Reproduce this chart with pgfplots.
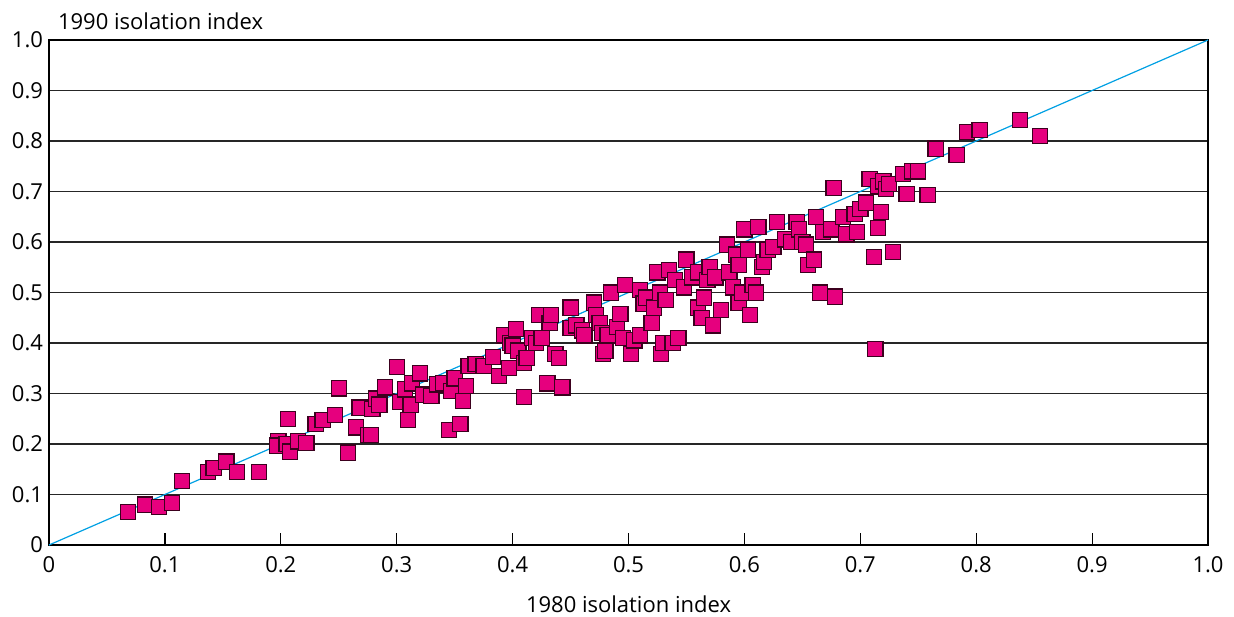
\documentclass[border=0pt]{standalone}
\usepackage{fontspec}
\setmainfont{Open Sans}
\usepackage{pgfplots}
\pgfplotsset{compat=1.18}
\definecolor{pinkfill}{RGB}{230,0,126}
\definecolor{pinkedge}{RGB}{60,0,30}
\definecolor{diag}{RGB}{0,160,227}
\begin{document}
\begin{tikzpicture}
\path[use as bounding box] (-24.5pt,-35.5pt) rectangle (592.5pt,272.5pt);
\begin{axis}[
  at={(0,0)}, anchor=south west,
  scale only axis, width=579.5pt, height=252.5pt,
  xmin=0, xmax=1, ymin=0, ymax=1,
  xtick={0,0.1,0.2,0.3,0.4,0.5,0.6,0.7,0.8,0.9,1.0},
  xticklabels={0,0.1,0.2,0.3,0.4,0.5,0.6,0.7,0.8,0.9,1.0},
  ytick={0,0.1,0.2,0.3,0.4,0.5,0.6,0.7,0.8,0.9,1.0},
  yticklabels={0,0.1,0.2,0.3,0.4,0.5,0.6,0.7,0.8,0.9,1.0},
  xtick pos=lower, ytick pos=left,
  tick align=inside,
  xtick style={black, line width=0.6pt},
  ytick style={draw=none},
  major tick length=6pt,
  ymajorgrids, grid style={black!85, line width=0.65pt},
  axis line style={black, line width=0.7pt},
  ticklabel style={font=\fontsize{11}{13}\selectfont},
  /pgf/number format/assume math mode=true,
  yticklabel style={xshift=0.5pt},
  xticklabel style={anchor=base, yshift=-13.5pt},
  title={1990 isolation index},
  title style={at={(axis description cs:0,1)}, anchor=south west, xshift=1pt, yshift=-4.3pt, font=\fontsize{11}{13}\selectfont},
  xlabel={1980 isolation index},
  xlabel style={at={(axis description cs:0.5,0)}, anchor=base, yshift=-33.5pt, font=\fontsize{11}{13}\selectfont},
]
\addplot[diag, line width=0.6pt] coordinates {(0,0) (1,1)};
\addplot[only marks, mark=square*, mark size=3.8pt,
  mark options={fill=pinkfill, draw=pinkedge, line width=0.6pt}] table {
x y
0.068 0.065
0.083 0.080
0.095 0.075
0.106 0.083
0.115 0.127
0.137 0.145
0.142 0.152
0.153 0.165
0.162 0.145
0.181 0.145
0.198 0.205
0.197 0.197
0.205 0.200
0.206 0.250
0.208 0.185
0.215 0.205
0.222 0.202
0.230 0.240
0.236 0.248
0.247 0.258
0.250 0.310
0.258 0.183
0.265 0.233
0.268 0.272
0.275 0.218
0.278 0.218
0.279 0.270
0.282 0.290
0.285 0.278
0.290 0.312
0.300 0.353
0.303 0.283
0.307 0.308
0.310 0.248
0.312 0.278
0.313 0.320
0.320 0.340
0.323 0.298
0.330 0.295
0.335 0.318
0.340 0.320
0.345 0.228
0.347 0.305
0.350 0.330
0.355 0.240
0.357 0.285
0.360 0.315
0.362 0.355
0.368 0.358
0.375 0.355
0.383 0.372
0.388 0.335
0.393 0.415
0.397 0.350
0.398 0.400
0.400 0.395
0.403 0.428
0.405 0.385
0.410 0.360
0.410 0.293
0.412 0.370
0.417 0.410
0.420 0.400
0.423 0.455
0.425 0.410
0.430 0.320
0.432 0.440
0.433 0.455
0.437 0.378
0.440 0.370
0.443 0.312
0.450 0.470
0.450 0.430
0.455 0.435
0.460 0.425
0.462 0.415
0.470 0.480
0.472 0.455
0.475 0.440
0.477 0.420
0.478 0.378
0.480 0.385
0.482 0.415
0.485 0.500
0.490 0.432
0.493 0.458
0.495 0.410
0.497 0.515
0.502 0.378
0.505 0.405
0.510 0.415
0.510 0.505
0.513 0.478
0.515 0.490
0.520 0.440
0.522 0.470
0.525 0.540
0.527 0.500
0.528 0.378
0.530 0.400
0.532 0.485
0.535 0.545
0.538 0.400
0.540 0.525
0.543 0.410
0.548 0.510
0.550 0.565
0.555 0.530
0.560 0.540
0.560 0.470
0.563 0.450
0.565 0.490
0.568 0.525
0.570 0.550
0.573 0.435
0.575 0.530
0.580 0.465
0.585 0.595
0.587 0.540
0.590 0.510
0.593 0.575
0.595 0.555
0.595 0.480
0.598 0.500
0.600 0.625
0.603 0.585
0.605 0.455
0.607 0.515
0.610 0.500
0.612 0.630
0.615 0.550
0.617 0.560
0.620 0.585
0.625 0.590
0.628 0.640
0.635 0.605
0.640 0.600
0.645 0.640
0.647 0.625
0.650 0.600
0.653 0.595
0.655 0.555
0.660 0.565
0.662 0.650
0.665 0.500
0.668 0.620
0.675 0.625
0.677 0.707
0.678 0.492
0.685 0.650
0.688 0.615
0.695 0.655
0.697 0.620
0.700 0.665
0.705 0.678
0.708 0.725
0.712 0.570
0.713 0.388
0.715 0.628
0.715 0.710
0.718 0.660
0.720 0.720
0.722 0.705
0.725 0.715
0.728 0.580
0.737 0.735
0.740 0.695
0.745 0.740
0.750 0.740
0.758 0.693
0.765 0.785
0.783 0.772
0.792 0.818
0.803 0.822
0.838 0.842
0.855 0.810
};
\end{axis}
\end{tikzpicture}
\end{document}
